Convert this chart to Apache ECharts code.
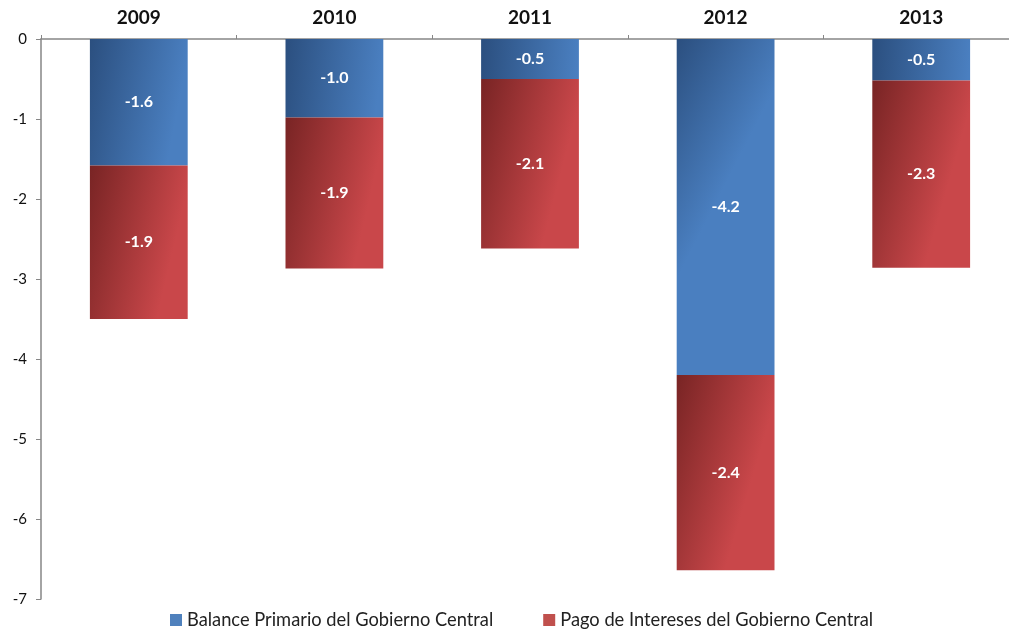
<!DOCTYPE html>
<html>
<head>
<meta charset="utf-8">
<script src="https://cdn.jsdelivr.net/npm/echarts@6/dist/echarts.min.js"></script>
<style>
  html, body { margin: 0; padding: 0; background: #fff; }
  #chart { width: 1009px; height: 637px; }
</style>
</head>
<body>
<div id="chart"></div>
<script>
const years = ['2009', '2010', '2011', '2012', '2013']
const balancePrimario = [-1.58, -0.98, -0.5, -4.2, -0.52]
const pagoIntereses = [-1.92, -1.89, -2.12, -2.44, -2.34]
const yTicks = [0, -1, -2, -3, -4, -5, -6, -7]

const chart = echarts.init(document.getElementById('chart'))

function grad(dark, light) {
  return new echarts.graphic.LinearGradient(0, 0, 1, 0.15, [
    { offset: 0, color: dark },
    { offset: 1, color: light }
  ])
}

const labelStyle = {
  show: true,
  position: 'inside',
  color: '#fff',
  fontWeight: 'bold',
  fontSize: 16,
  fontFamily: 'Lato',
  formatter: p => p.value.toFixed(1)
}

const option = {
  animation: false,
  textStyle: { fontFamily: 'Lato' },
  grid: {
    left: 41,
    top: 39,
    width: 978,
    height: 560,
    containLabel: false,
    outerBoundsMode: 'none'
  },
  legend: {
    left: 165,
    bottom: 3,
    itemWidth: 12,
    itemHeight: 12,
    itemGap: 50,
    icon: 'rect',
    textStyle: { fontSize: 18.3, color: '#222', fontFamily: 'Lato' },
    data: [
      { name: 'Balance Primario del Gobierno Central', itemStyle: { color: '#4f81bd' } },
      { name: 'Pago de Intereses del Gobierno Central', itemStyle: { color: '#c0504d' } }
    ]
  },
  xAxis: {
    type: 'category',
    position: 'top',
    data: years,
    axisLine: { lineStyle: { color: '#868686', width: 1.5 } },
    axisTick: { show: true, length: 4, lineStyle: { color: '#868686' } },
    axisLabel: { fontSize: 19, fontWeight: 'bold', color: '#111', margin: 12 }
  },
  yAxis: {
    type: 'value',
    min: -7,
    max: 0,
    interval: 1,
    axisLine: { show: true, lineStyle: { color: '#868686', width: 1.5 } },
    axisTick: { show: true, length: 5, lineStyle: { color: '#868686' } },
    splitLine: { show: false },
    axisLabel: {
      fontSize: 15,
      color: '#111',
      margin: 14,
      formatter: v => (yTicks.includes(v) ? String(v) : '')
    }
  },
  series: [
    {
      name: 'Balance Primario del Gobierno Central',
      type: 'bar',
      stack: 'total',
      barWidth: '50%',
      data: balancePrimario,
      itemStyle: { color: grad('#2b4f7f', '#4a7fc0') },
      label: labelStyle
    },
    {
      name: 'Pago de Intereses del Gobierno Central',
      type: 'bar',
      stack: 'total',
      barWidth: '50%',
      data: pagoIntereses,
      itemStyle: { color: grad('#782424', '#c9474a') },
      label: labelStyle
    }
  ]
}

chart.setOption(option)
</script>
</body>
</html>
